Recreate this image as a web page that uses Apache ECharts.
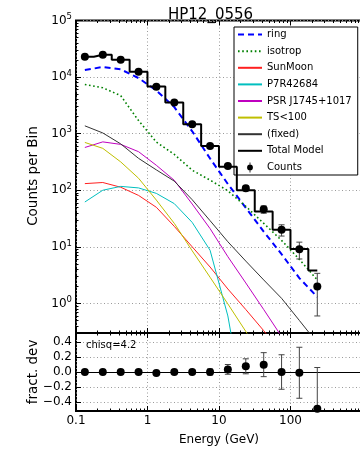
<!DOCTYPE html>
<html>
<head>
<meta charset="utf-8">
<script src="https://cdn.jsdelivr.net/npm/echarts@6/dist/echarts.min.js"></script>
<style>html,body{margin:0;padding:0;background:#fff}#c{width:360px;height:451px}</style>
</head>
<body>
<div id="c"></div>
<script>
// ---- data ----
const energy   = [0.133, 0.237, 0.422, 0.750, 1.33, 2.37, 4.22, 7.50, 13.3, 23.7, 42.2, 75.0, 133, 237];
const ring     = [13300, 15100, 13700, 9600, 5800, 2950, 1100, 364, 129, 49, 18.6, 7.4, 2.8, 1.3];
const isotrop  = [7400, 6480, 4700, 1700, 710, 430, 226, 151, 98, 52, 26, 13, 6, 2.6];
const sunMoon  = [131, 137, 113, 81, 50, 23, 10, 4.4, 1.8, 0.78, 0.33, 0.13, 0.05, 0.02];
const p7r42684 = [62, 100, 117, 110, 88, 58, 27, 8.7, 0.6, 0.01, 0.001, 0.0005, 0.0002, 0.0001];
const psrJ1745 = [570, 716, 646, 480, 276, 150, 57, 21, 6.7, 2.3, 0.78, 0.26, 0.08, 0.03];
const ts100    = [700, 550, 317, 163, 67, 26, 8.5, 2.9, 0.98, 0.32, 0.1, 0.03, 0.01, 0.003];
const fixedSrc = [1375, 1030, 660, 366, 229, 145, 68, 29, 12.3, 5.6, 2.6, 1.23, 0.5, 0.2];
const totalModel = [22900, 24800, 20200, 12400, 6850, 3560, 1470, 608, 260, 100, 42, 20, 9.2, 3.8];
const counts     = [22900, 24800, 20200, 12400, 6750, 3560, 1470, 608, 269, 108, 46, 20, 9.1, 2.0];
const countsErr  = [151, 157, 142, 111, 82, 60, 38, 25, 16, 10, 6.8, 4.5, 3.0, 1.4];
const fracDev    = [0, 0, 0, 0, -0.013, 0, 0, 0, 0.035, 0.076, 0.098, 0, -0.01, -0.49];
const fracDevErr = [0.007, 0.006, 0.007, 0.009, 0.012, 0.017, 0.026, 0.04, 0.065, 0.1, 0.16, 0.23, 0.34, 0.55];

const xMajorTicks = [0.1, 1, 10, 100, 1000];
const xTickLabels = [0.1, 1, 10, 100];
const yMajorTicks = [1, 10, 100, 1000, 10000, 100000];
const resTicks    = [-0.4, -0.2, 0, 0.2, 0.4];

// minor tick positions (2..9 per decade)
const xMinorTicks = [];
for (let k = -1; k <= 2; k++) for (let m = 2; m <= 9; m++) xMinorTicks.push(Number((m * Math.pow(10, k)).toPrecision(3)));
const yMinorTicks = [];
for (let k = -1; k <= 4; k++) for (let m = 2; m <= 9; m++) { const v = Number((m * Math.pow(10, k)).toPrecision(3)); if (v >= 0.3) yMinorTicks.push(v); }

const pairs = arr => energy.map((e, i) => [e, arr[i]]);
const FONT = 'DejaVu Sans';
const gridDot = {color: '#9a9a9a', width: 1, type: [1, 2.5]};

function errRender(params, api) {
  const x = api.value(0), lo = api.value(1), hi = api.value(2);
  const p1 = api.coord([x, lo]), p2 = api.coord([x, hi]);
  const cap = 3, st = {stroke: '#444', lineWidth: 1};
  return {type: 'group', children: [
    {type: 'line', shape: {x1: p1[0], y1: p1[1], x2: p2[0], y2: p2[1]}, style: st},
    {type: 'line', shape: {x1: p1[0] - cap, y1: p1[1], x2: p1[0] + cap, y2: p1[1]}, style: st},
    {type: 'line', shape: {x1: p2[0] - cap, y1: p2[1], x2: p2[0] + cap, y2: p2[1]}, style: st}
  ]};
}

function logX(grid, pos, opts) {
  return Object.assign({
    type: 'log', logBase: 10, gridIndex: grid, position: pos, min: 0.1, max: 1000,
    axisLine: {show: false, onZero: false},
    axisLabel: {show: false},
    splitLine: {show: false},
    axisTick: {show: true, inside: true, length: 5, lineStyle: {color: '#000', width: 1}, customValues: xMajorTicks}
  }, opts || {});
}

const grid0 = {left: 76, top: 20.5, width: 286, height: 312.5};
const grid1 = {left: 76, top: 333, width: 286, height: 78};
const noSym = {opacity: 0};
const countsIcon = 'path://M4,2.5 A3.5,3.5 0 1,1 3.99,2.5 Z M3.5,0 H4.5 V12 H3.5 Z';

const option = {
  animation: false,
  backgroundColor: '#fff',
  textStyle: {fontFamily: FONT, color: '#000'},
  title: {text: 'HP12_0556', left: 168, top: 8, padding: 0,
          textStyle: {fontFamily: FONT, fontSize: 15, fontWeight: 'normal', color: '#000'}},
  grid: [
    Object.assign({show: true, borderColor: '#000', borderWidth: 2, backgroundColor: 'transparent', outerBoundsMode: 'none'}, grid0),
    Object.assign({show: true, borderColor: '#000', borderWidth: 2, backgroundColor: 'transparent', outerBoundsMode: 'none'}, grid1)
  ],
  legend: {
    orient: 'vertical', left: 234, top: 27,
    padding: [1.6, 6, 1.6, 3],
    itemWidth: 24, itemHeight: 10, itemGap: 4.6,
    backgroundColor: '#fff', borderColor: '#000', borderWidth: 1, borderRadius: 0,
    textStyle: {fontFamily: FONT, fontSize: 10, lineHeight: 12, color: '#000'},
    data: [
      {name: 'ring', itemStyle: noSym},
      {name: 'isotrop', itemStyle: noSym},
      {name: 'SunMoon', itemStyle: noSym},
      {name: 'P7R42684', itemStyle: noSym},
      {name: 'PSR J1745+1017', itemStyle: noSym},
      {name: 'TS<100', itemStyle: noSym},
      {name: '(fixed)', itemStyle: noSym},
      {name: 'Total Model', itemStyle: noSym},
      {name: 'Counts', icon: countsIcon}
    ]
  },
  xAxis: [
    logX(0, 'bottom', {splitLine: {show: true, lineStyle: gridDot}}),
    logX(0, 'bottom', {axisTick: {show: true, inside: true, length: 2.5, lineStyle: {color: '#000'}, customValues: xMinorTicks}}),
    logX(0, 'top'),
    logX(0, 'top', {axisTick: {show: true, inside: true, length: 2.5, lineStyle: {color: '#000'}, customValues: xMinorTicks}}),
    logX(1, 'bottom', {
      splitLine: {show: true, lineStyle: gridDot},
      axisLabel: {show: true, customValues: xTickLabels, margin: 4, fontFamily: FONT, fontSize: 12, color: '#000',
                  formatter: v => String(v)}
    }),
    logX(1, 'bottom', {axisTick: {show: true, inside: true, length: 2.5, lineStyle: {color: '#000'}, customValues: xMinorTicks}}),
    logX(1, 'top'),
    logX(1, 'top', {axisTick: {show: true, inside: true, length: 2.5, lineStyle: {color: '#000'}, customValues: xMinorTicks}})
  ],
  yAxis: [
    {
      type: 'log', logBase: 10, gridIndex: 0, position: 'left', min: 0.3, max: 100000,
      axisLine: {show: false},
      axisTick: {show: true, inside: true, length: 5, lineStyle: {color: '#000'}, customValues: yMajorTicks},
      splitLine: {show: true, lineStyle: gridDot},
      axisLabel: {
        show: true, customValues: yMajorTicks, margin: 4, color: '#000',
        formatter: v => '10{s|' + Math.round(Math.log10(v)) + '}',
        rich: {s: {fontFamily: FONT, fontSize: 8.5, padding: [0, 0, 7, 0], color: '#000'}},
        fontFamily: FONT, fontSize: 12
      }
    },
    {
      type: 'log', logBase: 10, gridIndex: 0, position: 'left', min: 0.3, max: 100000,
      axisLine: {show: false}, axisLabel: {show: false}, splitLine: {show: false},
      axisTick: {show: true, inside: true, length: 2.5, lineStyle: {color: '#000'}, customValues: yMinorTicks}
    },
    {
      type: 'value', gridIndex: 1, position: 'left', min: -0.52, max: 0.52,
      axisLine: {show: false, onZero: false},
      axisTick: {show: true, inside: true, length: 5, lineStyle: {color: '#000'}, customValues: resTicks},
      splitLine: {show: true, lineStyle: gridDot},
      axisLabel: {show: true, customValues: resTicks, margin: 4, fontFamily: FONT, fontSize: 12, color: '#000',
                  formatter: v => v.toFixed(1).replace('-', '\u2212')}
    }
  ],
  graphic: [
    {type: 'text', x: 33, y: 176, rotation: Math.PI / 2,
     style: {text: 'Counts per Bin', font: '13.5px "DejaVu Sans"', fill: '#000', textAlign: 'center', textVerticalAlign: 'middle'}},
    {type: 'text', x: 33, y: 372, rotation: Math.PI / 2,
     style: {text: 'fract. dev', font: '13.5px "DejaVu Sans"', fill: '#000', textAlign: 'center', textVerticalAlign: 'middle'}},
    {type: 'text', x: 219, y: 440,
     style: {text: 'Energy (GeV)', font: '12px "DejaVu Sans"', fill: '#000', textAlign: 'center', textVerticalAlign: 'middle'}},
    {type: 'text', x: 86, y: 345, z: 10,
     style: {text: 'chisq=4.2', font: '10px "DejaVu Sans"', fill: '#000', textAlign: 'left', textVerticalAlign: 'middle'}}
  ],
  series: [
    {name: 'ring', type: 'line', xAxisIndex: 0, yAxisIndex: 0, data: pairs(ring), symbol: 'none', showSymbol: false,
     lineStyle: {color: '#0000ff', width: 2, type: [6, 4]}, itemStyle: {color: '#0000ff'}, z: 3},
    {name: 'isotrop', type: 'line', xAxisIndex: 0, yAxisIndex: 0, data: pairs(isotrop), symbol: 'none', showSymbol: false,
     lineStyle: {color: '#008000', width: 1.6, type: [1.6, 2.6]}, itemStyle: {color: '#008000'}, z: 3},
    {name: 'SunMoon', type: 'line', xAxisIndex: 0, yAxisIndex: 0, data: pairs(sunMoon), symbol: 'none', showSymbol: false,
     lineStyle: {color: '#ff2020', width: 1}, itemStyle: {color: '#ff2020'}},
    {name: 'P7R42684', type: 'line', xAxisIndex: 0, yAxisIndex: 0, data: pairs(p7r42684), symbol: 'none', showSymbol: false,
     lineStyle: {color: '#00bfbf', width: 1}, itemStyle: {color: '#00bfbf'}},
    {name: 'PSR J1745+1017', type: 'line', xAxisIndex: 0, yAxisIndex: 0, data: pairs(psrJ1745), symbol: 'none', showSymbol: false,
     lineStyle: {color: '#bf00bf', width: 1}, itemStyle: {color: '#bf00bf'}},
    {name: 'TS<100', type: 'line', xAxisIndex: 0, yAxisIndex: 0, data: pairs(ts100), symbol: 'none', showSymbol: false,
     lineStyle: {color: '#bfbf00', width: 1}, itemStyle: {color: '#bfbf00'}},
    {name: '(fixed)', type: 'line', xAxisIndex: 0, yAxisIndex: 0, data: pairs(fixedSrc), symbol: 'none', showSymbol: false,
     lineStyle: {color: '#333333', width: 1}, itemStyle: {color: '#333333'}},
    {name: 'Total Model', type: 'line', step: 'middle', xAxisIndex: 0, yAxisIndex: 0, data: pairs(totalModel),
     symbol: 'none', showSymbol: false, lineStyle: {color: '#000', width: 2}, itemStyle: {color: '#000'}, z: 4},
    {name: 'CountsErr', type: 'custom', xAxisIndex: 0, yAxisIndex: 0, clip: true, z: 5,
     data: energy.map((e, i) => [e, counts[i] - countsErr[i], counts[i] + countsErr[i]]),
     encode: {x: 0, y: [1, 2]}, renderItem: errRender},
    {name: 'Counts', type: 'scatter', xAxisIndex: 0, yAxisIndex: 0, data: pairs(counts),
     symbol: 'circle', symbolSize: 8, itemStyle: {color: '#000', opacity: 1}, z: 6},
    {name: 'ResErr', type: 'custom', xAxisIndex: 4, yAxisIndex: 2, clip: true, z: 5,
     data: energy.map((e, i) => [e, fracDev[i] - fracDevErr[i], fracDev[i] + fracDevErr[i]]),
     encode: {x: 0, y: [1, 2]}, renderItem: errRender},
    {name: 'fracdev', type: 'scatter', xAxisIndex: 4, yAxisIndex: 2, data: pairs(fracDev), clip: true,
     symbol: 'circle', symbolSize: 8, itemStyle: {color: '#000', opacity: 1}, z: 6,
     markLine: {silent: true, symbol: 'none', label: {show: false},
                lineStyle: {color: '#000', width: 1, type: 'solid'}, data: [{yAxis: 0}]}}
  ]
};

const chart = echarts.init(document.getElementById('c'), null, {renderer: 'canvas'});
chart.setOption(option);
</script>
</body>
</html>
